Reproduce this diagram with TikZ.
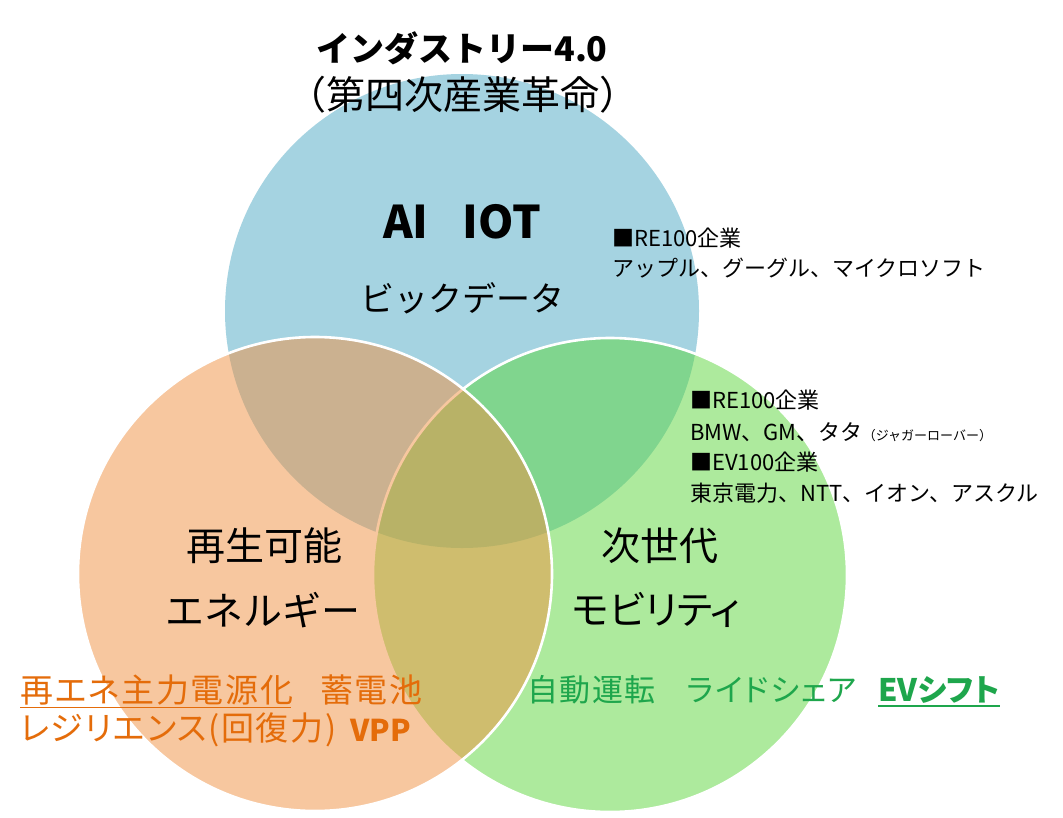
\documentclass[tikz,border=0pt]{standalone}
\usepackage{fontspec}
\setmainfont{Noto Sans CJK JP}
\newfontfamily\jpp{Noto Sans CJK JP}[RawFeature=+palt]
\newfontfamily\jpps{Noto Sans CJK JP}[RawFeature=+palt,LetterSpace=5]
\definecolor{cblue}{RGB}{165,211,225}
\definecolor{cgreenfill}{RGB}{93,215,61}
\definecolor{corangefill}{RGB}{241,145,65}
\definecolor{corange}{RGB}{228,108,10}
\definecolor{cgreen}{RGB}{30,166,76}
\begin{document}
\begin{tikzpicture}[x=1pt,y=-1pt,
  ring/.style={circle, inner sep=0pt, minimum size=474pt, draw=white, line width=2.6pt, fill opacity=0.5},
  lbl/.style={inner sep=0pt, anchor=center, text=black},
  big/.style={lbl, font=\fontsize{39}{44}\selectfont},
  side/.style={inner sep=0pt, anchor=west, text=black, font=\fontsize{22}{26}\selectfont},
  otext/.style={inner sep=0pt, anchor=west, text=corange, font=\jpps\fontsize{33}{38}\selectfont},
  gtext/.style={inner sep=0pt, anchor=west, text=cgreen, font=\jpps\fontsize{31}{36}\selectfont},
  uline/.style={line width=1.8pt}
]
\useasboundingbox (0,0) rectangle (1063,817);
\fill[white] (0,0) rectangle (1063,817);

% circles
\node[circle, inner sep=0pt, minimum size=474pt, fill=cblue] (cb) at (462,311) {};
\node[ring, fill=cgreenfill] (cg) at (610,575) {};
\node[ring, fill=corangefill] (co) at (315,574) {};

% title
\node[lbl, font=\bfseries\fontsize{34}{40}\selectfont] (t1) at (462,48) {インダストリー4.0};
\node[lbl, font=\fontsize{39}{44}\selectfont] (t2) at (463,95) {（第四次産業革命）};

% blue circle labels
\node[lbl, font=\bfseries\fontsize{45}{50}\selectfont] (ai) at (406,222) {AI};
\node[lbl, font=\bfseries\fontsize{45}{50}\selectfont] (iot) at (502,222) {IOT};
\node[lbl, font=\fontsize{34}{40}\selectfont] (bd) at (462,298) {ビックデータ};

% orange circle labels
\node[big] (re1) at (264,546) {再生可能};
\node[big] (re2) at (263,610) {エネルギー};

% green circle labels
\node[big] (mo1) at (660,546) {次世代};
\node[big, font=\jpp\fontsize{39}{44}\selectfont] (mo2) at (656,610) {モビリティ};

% right side lists
\node[side] (r1) at (612,238) {■RE100企業};
\node[side] (r2) at (612,268) {アップル、グーグル、マイクロソフト};
\node[side] (r3) at (690,400) {■RE100企業};
\node[side] (r4) at (690,432) {BMW、GM、タタ{\fontsize{13}{15}\selectfont（ジャガーローバー）}};
\node[side] (r5) at (690,462) {■EV100企業};
\node[side] (r6) at (690,493) {東京電力、NTT、イオン、アスクル};

% bottom orange texts
\node[otext] (o1) at (20,690) {再エネ主力電源化};
\draw[uline, corange] ([yshift=-2pt]o1.south west) -- ([yshift=-2pt,xshift=-2pt]o1.south east);
\node[otext] (o2) at (320,690) {蓄電池};
\node[otext] (o3) at (20,730) {レジリエンス(回復力)};
\node[otext, font=\jpp\bfseries\fontsize{30}{36}\selectfont] (o4) at (350,730) {VPP};

% bottom green texts
\node[gtext] (g1) at (527,690) {自動運転};
\node[gtext] (g2) at (687,690) {ライドシェア};
\node[gtext, font=\jpp\bfseries\fontsize{31}{36}\selectfont] (g3) at (878,690) {EVシフト};
\draw[uline, cgreen] ([yshift=-2pt]g3.south west) -- ([yshift=-2pt]g3.south east);
\end{tikzpicture}
\end{document}
